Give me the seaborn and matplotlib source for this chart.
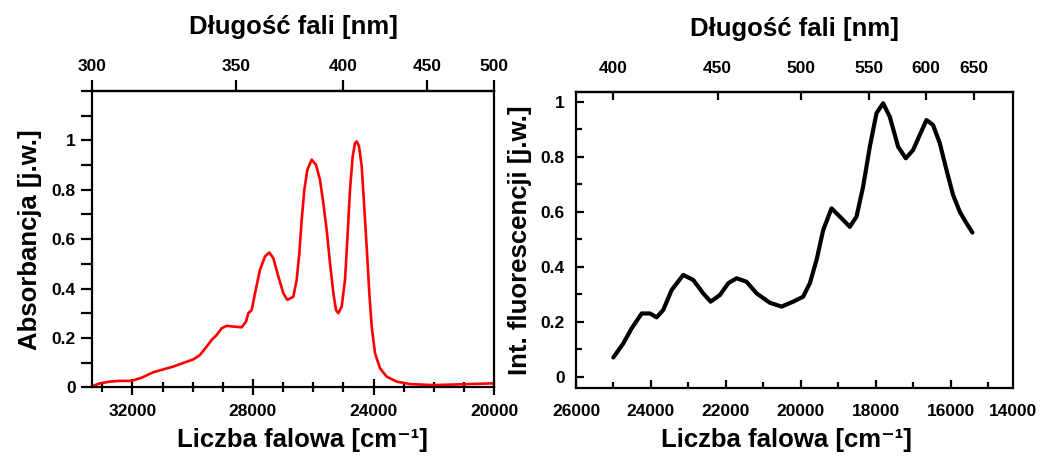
import numpy as np
import pandas as pd
import matplotlib
matplotlib.use("Agg")
import matplotlib.pyplot as plt
import seaborn as sns
from matplotlib.ticker import MultipleLocator, FixedLocator, FixedFormatter

# ---------------- data ----------------
abs_wavenumber = [33333, 33079, 32747, 32415, 32033, 31693, 31310, 30646, 29982,
                  29759, 29537, 29371, 29205, 29040, 28874, 28653, 28376, 28232,
                  28155, 28043, 27933, 27768, 27602, 27458, 27325, 27159, 26993,
                  26860, 26750, 26662, 26551, 26462, 26384, 26296, 26196, 26052,
                  25909, 25776, 25666, 25555, 25444, 25333, 25244, 25167, 25056,
                  24946, 24869, 24780, 24691, 24614, 24558, 24481, 24392, 24315,
                  24227, 24139, 24060, 23950, 23784, 23562, 23230, 22788, 22014,
                  21129, 20022]
abs_values = [0.005, 0.016, 0.023, 0.026, 0.026, 0.039, 0.061, 0.084, 0.113,
              0.131, 0.165, 0.192, 0.212, 0.239, 0.249, 0.246, 0.243, 0.266,
              0.300, 0.313, 0.381, 0.476, 0.530, 0.546, 0.523, 0.449, 0.381,
              0.354, 0.361, 0.367, 0.435, 0.543, 0.678, 0.800, 0.881, 0.922,
              0.901, 0.840, 0.746, 0.638, 0.503, 0.381, 0.313, 0.300, 0.327,
              0.435, 0.597, 0.800, 0.935, 0.989, 0.996, 0.976, 0.895, 0.746,
              0.570, 0.381, 0.246, 0.138, 0.077, 0.043, 0.023, 0.013, 0.009,
              0.012, 0.016]

fl_wavenumber = [25005, 24739, 24515, 24248, 24027, 23849, 23672, 23449, 23139,
                 22872, 22605, 22408, 22160, 21938, 21715, 21448, 21181, 20827,
                 20515, 20205, 19939, 19760, 19582, 19405, 19182, 18960, 18693,
                 18515, 18339, 18160, 17982, 17805, 17627, 17405, 17200, 17005,
                 16827, 16648, 16472, 16293, 16115, 15939, 15760, 15581, 15421]
fl_values = [0.070, 0.121, 0.176, 0.230, 0.230, 0.216, 0.243, 0.315, 0.370,
             0.352, 0.303, 0.273, 0.297, 0.340, 0.358, 0.345, 0.303, 0.269,
             0.255, 0.273, 0.291, 0.340, 0.424, 0.533, 0.612, 0.582, 0.545,
             0.582, 0.691, 0.836, 0.958, 0.994, 0.945, 0.836, 0.794, 0.824,
             0.879, 0.933, 0.915, 0.849, 0.752, 0.661, 0.600, 0.558, 0.524]

left_xticks = [32000, 28000, 24000, 20000]
left_yticks = [0, 0.2, 0.4, 0.6, 0.8, 1.0]
left_ylabels = ["0", "0.2", "0.4", "0.6", "0.8", "1"]
left_top_nm = [300, 350, 400, 450, 500]
right_xticks = [26000, 24000, 22000, 20000, 18000, 16000]
right_extra_label = "14000"
right_yticks = [0, 0.2, 0.4, 0.6, 0.8, 1.0]
right_ylabels = ["0", "0.2", "0.4", "0.6", "0.8", "1"]
right_top_nm = [400, 450, 500, 550, 600, 650]

# ---------------- style ----------------
sns.set_style("ticks")
plt.rcParams["font.family"] = ["Liberation Sans", "DejaVu Sans"]
plt.rcParams["font.weight"] = "bold"
plt.rcParams["axes.labelweight"] = "bold"
plt.rcParams["axes.linewidth"] = 1.6
for k in ["text.color", "axes.labelcolor", "xtick.color", "ytick.color", "axes.edgecolor"]:
    plt.rcParams[k] = "black"

TICKFS = 12.5
LABELFS = 18.5

fig = plt.figure(figsize=(10.42, 4.59), dpi=100)
axL = fig.add_axes([0.0886, 0.1562, 0.4741 - 0.0886, 0.8017 - 0.1562])
axR = fig.add_axes([0.5528, 0.154, 0.9725 - 0.5528, 0.8002 - 0.154])

def inv(x):
    x = np.asarray(x, dtype=float)
    safe = np.where(x == 0, 1.0, x)
    return np.where(x == 0, np.inf, 1e7 / safe)

XLABEL = "Liczba falowa [cm⁻¹]"

# ---------- left panel ----------
dfL = pd.DataFrame({"w": abs_wavenumber, "a": abs_values})
sns.lineplot(data=dfL, x="w", y="a", ax=axL, color="#ff0000", linewidth=1.9,
             sort=False, estimator=None)
axL.set_xlim(1e7 / 300, 20000)
axL.set_ylim(0, 1.2)
axL.xaxis.set_major_locator(FixedLocator(left_xticks))
axL.xaxis.set_minor_locator(MultipleLocator(1000))
axL.yaxis.set_major_locator(FixedLocator(left_yticks))
axL.yaxis.set_major_formatter(FixedFormatter(left_ylabels))
axL.yaxis.set_minor_locator(MultipleLocator(0.1))
axL.tick_params(axis="x", which="major", direction="inout", length=12, width=1.6,
                labelsize=TICKFS, pad=6)
axL.tick_params(axis="x", which="minor", direction="inout", length=7, width=1.6)
axL.tick_params(axis="y", which="both", direction="out", length=8, width=1.6,
                labelsize=TICKFS, pad=4)
axL.set_xlabel(XLABEL, fontsize=LABELFS)
axL.xaxis.set_label_coords(0.523, -0.137)
axL.set_ylabel("Absorbancja [j.w.]", fontsize=LABELFS, labelpad=7)
for s in axL.spines.values():
    s.set_visible(True)
    s.set_linewidth(1.6)

secL = axL.secondary_xaxis("top", functions=(inv, inv))
secL.set_xticks(left_top_nm)
secL.set_xticklabels([str(v) for v in left_top_nm])
secL.tick_params(axis="x", direction="out", length=8, width=1.6, labelsize=TICKFS, pad=4)
secL.xaxis.set_minor_locator(FixedLocator([]))
secL.set_xlabel("Długość fali [nm]", fontsize=LABELFS, labelpad=18)

# ---------- right panel ----------
dfR = pd.DataFrame({"w": fl_wavenumber, "f": fl_values})
sns.lineplot(data=dfR, x="w", y="f", ax=axR, color="black", linewidth=3.0,
             sort=False, estimator=None)
axR.set_xlim(26000, 14330)
axR.set_ylim(-0.042, 1.036)
axR.xaxis.set_major_locator(FixedLocator(right_xticks))
axR.xaxis.set_minor_locator(FixedLocator([25000, 23000, 21000, 19000, 17000, 15000]))
axR.yaxis.set_major_locator(FixedLocator(right_yticks))
axR.yaxis.set_major_formatter(FixedFormatter(right_ylabels))
axR.yaxis.set_minor_locator(MultipleLocator(0.1))
axR.tick_params(axis="x", which="major", direction="in", length=6, width=1.6,
                labelsize=TICKFS, pad=11)
axR.tick_params(axis="x", which="minor", direction="in", length=4, width=1.6)
axR.tick_params(axis="y", which="major", direction="in", length=6, width=1.6,
                labelsize=TICKFS, pad=8)
axR.tick_params(axis="y", which="minor", direction="in", length=4, width=1.6)
axR.set_xlabel(XLABEL, fontsize=LABELFS)
axR.xaxis.set_label_coords(0.481, -0.134)
axR.set_ylabel("Int. fluorescencji [j.w.]", fontsize=LABELFS, labelpad=6)
for s in axR.spines.values():
    s.set_visible(True)
    s.set_linewidth(1.6)
axR.annotate(right_extra_label, xy=(1.0, 0), xycoords="axes fraction",
             xytext=(0, -11), textcoords="offset points", ha="center", va="top",
             fontsize=TICKFS, fontweight="bold", annotation_clip=False)

secR = axR.secondary_xaxis("top", functions=(inv, inv))
secR.set_xticks(right_top_nm)
secR.set_xticklabels([str(v) for v in right_top_nm])
secR.tick_params(axis="x", direction="in", length=6, width=1.6, labelsize=TICKFS, pad=11)
secR.xaxis.set_minor_locator(FixedLocator([]))
secR.set_xlabel("Długość fali [nm]", fontsize=LABELFS, labelpad=18)

fig.savefig("out.png", dpi=100)
